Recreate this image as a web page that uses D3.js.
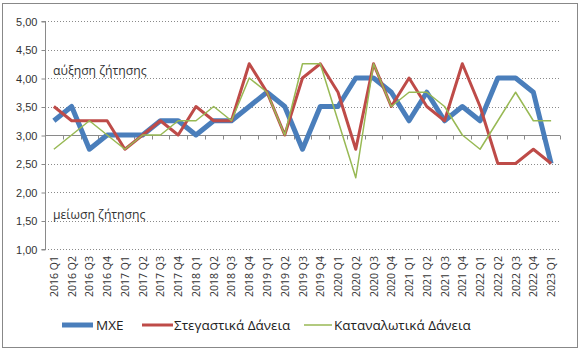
<!DOCTYPE html>
<html><head><meta charset="utf-8">
<script src="https://cdn.jsdelivr.net/npm/d3@7"></script>
<style>body{margin:0;background:#fff;}svg{display:block;font-family:"Open Sans","Liberation Sans",sans-serif;}</style>
</head><body>
<script>
const categories = ["2016 Q1","2016 Q2","2016 Q3","2016 Q4","2017 Q1","2017 Q2","2017 Q3","2017 Q4","2018 Q1","2018 Q2","2018 Q3","2018 Q4","2019 Q1","2019 Q2","2019 Q3","2019 Q4","2020 Q1","2020 Q2","2020 Q3","2020 Q4","2021 Q1","2021 Q2","2021 Q3","2021 Q4","2022 Q1","2022 Q2","2022 Q3","2022 Q4","2023 Q1"];
const mxe = [3.25,3.5,2.75,3.0,3.0,3.0,3.25,3.25,3.0,3.25,3.25,3.5,3.75,3.5,2.75,3.5,3.5,4.0,4.0,3.75,3.25,3.75,3.25,3.5,3.25,4.0,4.0,3.75,2.5];
const housing = [3.5,3.25,3.25,3.25,2.75,3.0,3.25,3.0,3.5,3.25,3.25,4.25,3.75,3.0,4.0,4.25,3.75,2.75,4.25,3.5,4.0,3.5,3.25,4.25,3.5,2.5,2.5,2.75,2.5];
const consumer = [2.75,3.0,3.25,3.0,2.75,3.0,3.0,3.25,3.25,3.5,3.25,4.0,3.75,3.0,4.25,4.25,3.25,2.25,4.25,3.5,3.75,3.75,3.5,3.0,2.75,3.25,3.75,3.25,3.25];
const yTicks = [1.0,1.5,2.0,2.5,3.0,3.5,4.0,4.5,5.0];
const seriesNames = ["ΜΧΕ","Στεγαστικά Δάνεια","Καταναλωτικά Δάνεια"];

(function(){
const colors = ["#4A7EBB","#BE4B48","#98B954"];
const widths = [5,3,1.5];
const W=582,H=354;
const svg=d3.select("body").append("svg").attr("width",W).attr("height",H);
svg.append("rect").attr("x",2.5).attr("y",3.5).attr("width",575).attr("height",344).attr("fill","#fff").attr("stroke","#888").attr("stroke-width",1);

const pl=45,pr=560,pt=21,pb=249;
const x=d3.scaleBand().domain(categories).range([pl,pr]);
const y=d3.scaleLinear().domain([1,5]).range([pb,pt]);
const fmt=v=>d3.format(".2f")(v).replace(".",",");

svg.append("g").selectAll("line").data(yTicks.filter(v=>v!==3)).join("line")
  .attr("x1",pl).attr("x2",pr).attr("y1",d=>Math.round(y(d))+0.5).attr("y2",d=>Math.round(y(d))+0.5)
  .attr("stroke","#8a8a8a").attr("stroke-width",1).attr("stroke-dasharray","1,2");

const ya=svg.append("g").attr("transform",`translate(${pl+0.5},0.5)`)
  .call(d3.axisLeft(y).tickValues(yTicks).tickFormat(fmt).tickSize(4).tickPadding(4));
ya.select(".domain").attr("stroke","#8a8a8a").attr("d",`M-4,${y(5)}H0V${y(1)}H-4`);
ya.selectAll(".tick line").attr("stroke","#8a8a8a");
ya.selectAll("text").attr("font-size",11).attr("fill","#333").attr("font-family",null);

const xa=svg.append("g").attr("transform",`translate(0,${Math.round(y(3))+0.5})`);
xa.append("line").attr("x1",pl).attr("x2",pr).attr("stroke","#8a8a8a");
xa.selectAll("line.t").data(d3.range(categories.length+1)).join("line").attr("class","t")
  .attr("x1",i=>Math.round(pl+i*x.step())+0.5).attr("x2",i=>Math.round(pl+i*x.step())+0.5)
  .attr("y1",0).attr("y2",4).attr("stroke","#8a8a8a");

svg.append("g").selectAll("text").data(categories).join("text")
  .attr("transform",d=>`translate(${x(d)+x.bandwidth()/2+4},256) rotate(-90)`)
  .attr("text-anchor","end").attr("font-size",10.5).attr("fill","#333").text(d=>d);

svg.append("text").attr("x",53).attr("y",75).attr("font-size",12.2).attr("fill","#333").text("αύξηση ζήτησης");
svg.append("text").attr("x",53).attr("y",219).attr("font-size",12.2).attr("fill","#333").text("μείωση ζήτησης");

const data=[mxe,housing,consumer];
const line=d3.line().x((d,i)=>x(categories[i])+x.bandwidth()/2).y(d=>y(d));
[0,1,2].forEach(k=>{
  svg.append("path").datum(data[k]).attr("d",line).attr("fill","none")
    .attr("stroke",colors[k]).attr("stroke-width",widths[k]).attr("stroke-linejoin","round");
});

const leg=[{x:62,w:31,tx:96},{x:142,w:31,tx:174},{x:304,w:28,tx:334}];
leg.forEach((l,k)=>{
  svg.append("line").attr("x1",l.x).attr("x2",l.x+l.w).attr("y1",325).attr("y2",325)
    .attr("stroke",colors[k]).attr("stroke-width",widths[k]);
  svg.append("text").attr("x",l.tx).attr("y",330).attr("font-size",13.5).attr("fill","#222").text(seriesNames[k]);
});
})();
</script>
</body></html>
